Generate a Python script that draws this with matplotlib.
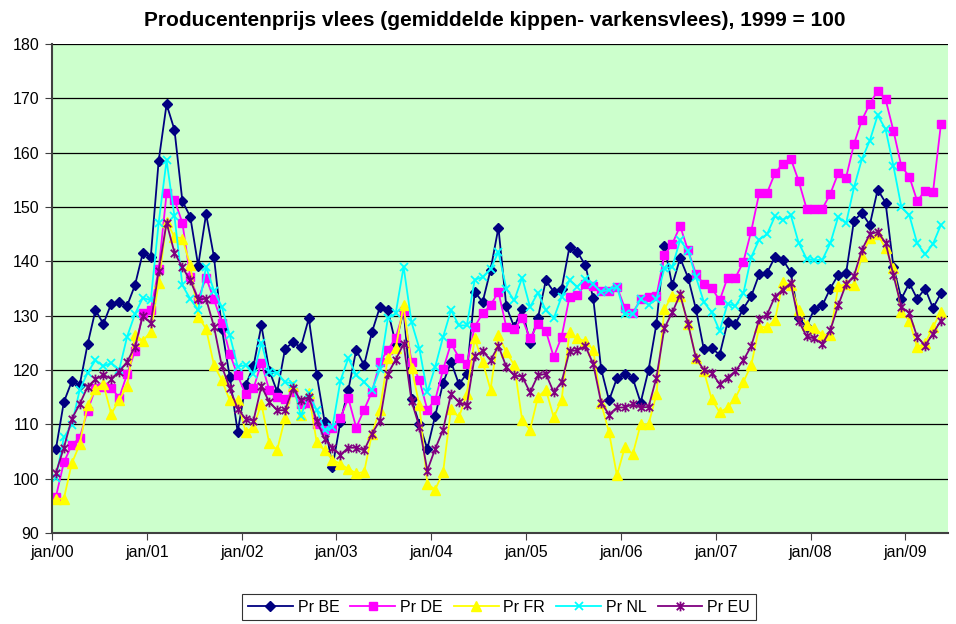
import numpy as np
import matplotlib
matplotlib.use("Agg")
from matplotlib import pyplot as plt
from matplotlib.path import Path

# monthly values, jan 2000 .. may 2009 (1999 = 100)
pr_be = [105.5, 114.1, 117.9, 117.2, 124.7, 131.0, 128.5, 132.2, 132.5, 131.8, 135.6, 141.6,
         140.8, 158.5, 168.9, 164.2, 151.1, 148.2, 139.2, 148.7, 140.8, 127.6, 118.7, 108.6,
         117.2, 120.7, 128.2, 119.9, 116.0, 123.9, 125.1, 124.2, 129.5, 119.1, 110.5, 102.1,
         110.5, 116.3, 123.7, 120.9, 127.0, 131.6, 131.0, 124.8, 131.0, 114.7, 110.0, 105.5,
         111.6, 117.6, 121.5, 117.4, 119.3, 134.4, 132.5, 138.4, 146.2, 131.7, 127.9, 131.3,
         124.9, 129.6, 136.5, 134.4, 135.0, 142.7, 141.7, 139.3, 133.2, 120.2, 114.4, 118.5,
         119.2, 118.5, 114.0, 120.0, 128.5, 142.8, 135.6, 140.6, 137.0, 131.2, 123.8, 124.0,
         122.8, 128.8, 128.5, 131.3, 133.6, 137.6, 137.9, 140.8, 140.3, 138.0, 129.5, 128.0,
         131.3, 131.9, 135.0, 137.5, 137.8, 147.5, 148.9, 146.7, 153.2, 150.8, 138.9, 133.1,
         136.0, 133.1, 135.0, 131.4, 134.1]
pr_de = [96.7, 103.0, 106.2, 107.5, 112.5, 116.6, 116.8, 116.7, 114.9, 119.2, 123.5, 130.5,
         131.0, 138.5, 152.5, 151.3, 147.1, 137.1, 133.0, 137.0, 133.0, 128.7, 123.0, 119.0,
         115.5, 116.6, 121.3, 116.3, 115.0, 114.6, 116.0, 113.7, 114.0, 110.1, 108.9, 109.4,
         111.2, 114.8, 109.4, 112.7, 116.0, 121.4, 123.7, 125.9, 130.9, 121.5, 118.1, 112.7,
         114.5, 120.1, 124.9, 122.3, 121.1, 128.0, 130.4, 131.9, 134.4, 127.9, 127.6, 129.5,
         125.8, 128.5, 127.2, 122.4, 126.1, 133.5, 133.8, 135.8, 135.4, 134.6, 134.6, 135.3,
         131.4, 130.5, 133.0, 133.5, 133.6, 141.1, 143.2, 146.5, 142.0, 137.7, 135.8, 135.1,
         132.8, 137.0, 137.0, 139.9, 145.6, 152.5, 152.6, 156.2, 158.0, 158.9, 154.8, 149.7,
         149.7, 149.7, 152.4, 156.2, 155.4, 161.6, 166.0, 169.0, 171.4, 169.8, 164.0, 157.5,
         155.6, 151.1, 153.0, 152.7, 165.2]
pr_fr = [96.3, 96.3, 102.8, 106.3, 113.5, 116.5, 117.4, 111.9, 114.5, 117.0, 126.4, 125.4,
         127.0, 136.0, 147.3, 144.5, 144.2, 139.3, 129.8, 127.6, 120.9, 118.1, 114.4, 114.4,
         108.6, 109.5, 113.8, 106.5, 105.3, 111.2, 117.0, 111.7, 115.7, 106.7, 105.2, 103.5,
         102.7, 101.8, 101.0, 101.2, 108.3, 112.7, 122.2, 124.0, 131.9, 120.4, 113.5, 99.0,
         98.0, 101.2, 112.9, 111.3, 115.6, 125.8, 121.5, 116.4, 126.4, 123.3, 120.9, 110.8,
         109.0, 115.0, 116.4, 111.3, 114.5, 127.0, 125.8, 125.3, 123.7, 113.9, 108.5, 100.6,
         105.8, 104.5, 110.0, 110.0, 115.5, 131.2, 133.7, 133.7, 128.5, 122.3, 119.8, 114.6,
         112.2, 113.1, 114.9, 117.8, 120.9, 127.9, 127.9, 129.2, 136.2, 135.6, 131.1, 128.2,
         127.8, 126.5, 126.4, 135.4, 135.8, 135.6, 140.9, 144.3, 145.0, 142.4, 138.7, 130.7,
         129.1, 124.2, 124.9, 127.9, 130.7]
pr_nl = [100.2, 107.6, 109.9, 116.3, 119.5, 121.8, 120.7, 121.3, 120.0, 126.1, 130.3, 133.3,
         132.8, 147.1, 158.6, 148.3, 135.6, 133.1, 131.0, 139.0, 134.6, 131.6, 126.4, 120.6,
         120.9, 119.3, 125.0, 119.6, 119.4, 117.8, 117.5, 111.5, 115.7, 112.6, 108.9, 109.5,
         118.0, 122.2, 119.1, 117.8, 116.3, 120.1, 129.5, 130.4, 139.0, 128.8, 123.9, 115.9,
         120.6, 126.1, 131.0, 128.2, 128.2, 136.6, 137.1, 138.6, 141.7, 135.0, 132.8, 137.0,
         131.6, 134.2, 131.0, 129.5, 133.5, 136.5, 135.3, 136.8, 135.8, 134.4, 134.8, 135.3,
         130.3, 130.3, 133.0, 132.0, 133.1, 138.7, 139.0, 143.9, 141.9, 137.1, 132.5, 130.6,
         127.2, 132.2, 131.8, 134.1, 140.8, 144.0, 145.0, 148.3, 147.6, 148.5, 143.4, 140.5,
         140.2, 140.3, 143.3, 148.2, 147.0, 153.6, 158.8, 162.2, 166.9, 164.3, 157.5, 150.0,
         148.5, 143.3, 141.3, 143.2, 146.7]
pr_eu = [101.1, 105.7, 111.0, 113.7, 116.9, 118.3, 119.1, 118.4, 119.7, 121.5, 124.3, 130.0,
         128.6, 138.2, 147.1, 141.6, 138.9, 136.5, 133.0, 133.1, 128.0, 120.7, 116.6, 112.9,
         111.0, 110.7, 117.0, 114.1, 112.6, 112.6, 116.6, 114.4, 115.0, 110.7, 107.3, 105.7,
         104.4, 105.7, 105.7, 105.2, 108.3, 110.7, 119.3, 121.9, 124.8, 114.3, 109.5, 101.5,
         105.5, 109.0, 115.6, 114.1, 113.5, 122.5, 123.5, 121.8, 124.4, 120.6, 119.0, 118.8,
         115.9, 119.0, 119.3, 115.9, 117.8, 123.5, 123.6, 124.4, 121.1, 114.0, 111.8, 113.1,
         113.1, 113.7, 113.1, 113.2, 118.6, 127.7, 130.6, 133.9, 128.5, 122.2, 120.0, 119.5,
         117.4, 118.6, 119.8, 121.8, 124.4, 129.3, 130.2, 133.5, 134.8, 136.0, 129.0, 126.2,
         125.8, 124.8, 127.3, 131.9, 135.8, 137.3, 142.1, 145.0, 145.4, 143.4, 137.4, 131.6,
         130.5, 126.1, 124.5, 126.7, 129.1]
series_names = ["Pr BE", "Pr DE", "Pr FR", "Pr NL", "Pr EU"]
year_labels = ["jan/00", "jan/01", "jan/02", "jan/03", "jan/04",
               "jan/05", "jan/06", "jan/07", "jan/08", "jan/09"]

# excel style asterisk: an x with a vertical bar through it
star = Path([(-1, -1), (1, 1), (-1, 1), (1, -1), (0, -1.3), (0, 1.3)],
            [Path.MOVETO, Path.LINETO, Path.MOVETO, Path.LINETO, Path.MOVETO, Path.LINETO])

styles = [
    dict(color="#000080", marker="D", ms=5.5),
    dict(color="#FF00FF", marker="s", ms=6),
    dict(color="#FFFF00", marker="^", ms=7),
    dict(color="#00FFFF", marker="x", ms=6, mew=1.3),
    dict(color="#800080", marker=star, ms=7, mew=1.3),
]

plt.rcParams["font.family"] = ["Liberation Sans", "DejaVu Sans"]

fig = plt.figure(figsize=(9.56, 6.24), dpi=100)
ax = fig.add_axes([52 / 956, 1 - 533 / 624, 896 / 956, 489 / 624])
ax.set_facecolor("#CCFFCC")

for name, vals, st in zip(series_names, [pr_be, pr_de, pr_fr, pr_nl, pr_eu], styles):
    x = np.arange(len(vals))
    ax.plot(x, vals, label=name, lw=1.3, **st)

ax.set_ylim(90, 180)
ax.set_yticks(np.arange(90, 181, 10))
ax.yaxis.grid(True, color="black", lw=0.9)
ax.set_axisbelow(True)

n = len(pr_be)
ax.set_xlim(-0.5, 112.9)
ax.set_xticks(np.arange(0, n, 12) - 0.5)
ax.set_xticklabels(year_labels)

for s in ["top", "right"]:
    ax.spines[s].set_visible(False)
ax.spines["left"].set_color("#404040")
ax.spines["bottom"].set_color("#404040")
ax.spines["left"].set_linewidth(1.5)
ax.spines["bottom"].set_linewidth(1.5)
ax.tick_params(axis="both", labelsize=11.5, length=5, color="#404040", pad=4)

fig.text(0.518, 1 - 20 / 624,
         "Producentenprijs vlees (gemiddelde kippen- varkensvlees), 1999 = 100",
         ha="center", va="center", fontsize=15, fontweight="bold")

leg = fig.legend(loc="center", bbox_to_anchor=(499 / 956, 1 - 607 / 624), ncol=5,
                 fontsize=11.5, frameon=True, fancybox=False, edgecolor="black",
                 handlelength=2.8, handletextpad=0.3, columnspacing=0.7,
                 borderpad=0.35, borderaxespad=0)
leg.get_frame().set_linewidth(0.8)

fig.savefig("out.png", dpi=100)
